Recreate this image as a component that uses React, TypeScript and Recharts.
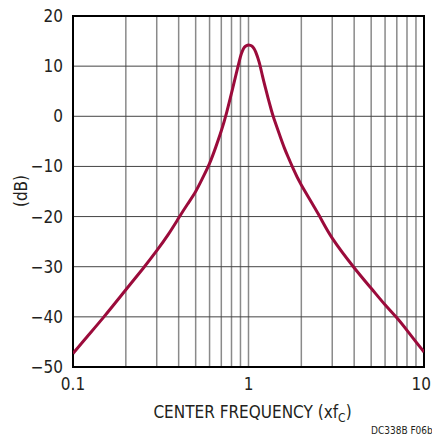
import React from 'react';
import {
  LineChart,
  Line,
  XAxis,
  YAxis,
  CartesianGrid,
  ReferenceArea,
} from 'recharts';

// frequency (x fC) and gain (dB)
const freq = [
  0.1, 0.12, 0.15, 0.2, 0.25, 0.3, 0.35, 0.4, 0.45, 0.5, 0.55, 0.6, 0.65, 0.7,
  0.75, 0.8, 0.85, 0.875, 0.9, 0.925, 0.95, 0.975, 1.0, 1.025, 1.05, 1.075, 1.1,
  1.15, 1.2, 1.25, 1.3, 1.35, 1.4, 1.5, 1.6, 1.7, 1.8, 2, 2.5, 3, 4, 5, 6, 7, 8,
  9, 10,
];
const gain = [
  -47.3, -44.0, -40.0, -34.6, -30.4, -26.8, -23.5, -20.3, -17.5, -15.0, -12.2,
  -9.4, -6.2, -2.9, 0.7, 4.6, 8.4, 10.2, 11.9, 13.1, 13.8, 14.1, 14.2, 14.15,
  13.95, 13.5, 12.8, 10.8, 8.1, 5.6, 3.3, 1.2, -0.6, -3.6, -6.3, -8.5, -10.5,
  -13.7, -19.5, -24.3, -30.2, -34.3, -37.6, -40.2, -42.7, -45.0, -47.0,
];

const xTicks = [
  0.1, 0.2, 0.3, 0.4, 0.5, 0.6, 0.7, 0.8, 0.9, 1, 2, 3, 4, 5, 6, 7, 8, 9, 10,
];
const xLabels = [0.1, 1, 10];
const yTicks = [-50, -40, -30, -20, -10, 0, 10, 20];

const data = freq.map((f, i) => ({ f, db: gain[i] }));

const FONT = "'Liberation Sans Narrow', 'DejaVu Sans Condensed', sans-serif";
const TEXT = '#231f20';

const XTick = (props: any) => {
  const { x, y, payload } = props;
  const v = payload.value;
  if (!xLabels.includes(v)) return null;
  const last = v === 10;
  return (
    <text
      x={last ? 431 : x}
      y={y}
      dy="0.71em"
      textAnchor={last ? 'end' : 'middle'}
      fontFamily={FONT}
      fontSize={17}
      fill={TEXT}
    >
      {String(v)}
    </text>
  );
};

const XTitle = (props: any) => {
  const { viewBox } = props;
  const cx = viewBox.x + viewBox.width / 2 + 4;
  return (
    <text
      x={cx}
      y={418}
      textAnchor="middle"
      fontFamily={FONT}
      fontSize={17}
      fill={TEXT}
    >
      CENTER FREQUENCY (xf
      <tspan fontSize={12} dy={4}>
        C
      </tspan>
      <tspan dy={-4}>)</tspan>
    </text>
  );
};

const YTitle = () => (
  <text
    x={0}
    y={0}
    transform="translate(27, 191) rotate(-90)"
    textAnchor="middle"
    fontFamily={FONT}
    fontSize={17}
    fill={TEXT}
  >
    (dB)
  </text>
);

const fmtY = (v: number) => (v < 0 ? '\u2212' + Math.abs(v) : String(v));

export default function App() {
  return (
    <div
      style={{
        position: 'absolute',
        left: 0,
        top: 0,
        width: 432,
        height: 437,
        background: '#fff',
      }}
    >
      <LineChart
        width={432}
        height={437}
        data={data}
        margin={{ top: 16, right: 8, bottom: 30, left: 0 }}
      >
        <CartesianGrid
          horizontal={false}
          stroke="#8a8a8a"
          strokeWidth={1.5}
        />
        <CartesianGrid vertical={false} stroke="#444" strokeWidth={1} />
        <XAxis
          dataKey="f"
          type="number"
          scale="log"
          domain={[0.1, 10]}
          ticks={xTicks}
          interval={0}
          height={40}
          axisLine={false}
          tickLine={false}
          tickSize={0}
          tickMargin={11}
          tick={<XTick />}
          allowDataOverflow
          label={<XTitle />}
        />
        <YAxis
          type="number"
          domain={[-50, 20]}
          ticks={yTicks}
          tickFormatter={fmtY}
          interval={0}
          width={73}
          axisLine={false}
          tickLine={false}
          tickSize={0}
          tickMargin={10}
          tick={{ fontFamily: FONT, fontSize: 17, fill: TEXT }}
          label={<YTitle />}
        />
        <ReferenceArea
          x1={0.1}
          x2={10}
          y1={-50}
          y2={20}
          fill="none"
          fillOpacity={0}
          stroke="#000"
          strokeWidth={2}
        />
        <Line
          type="natural"
          dataKey="db"
          stroke="#9b0b3b"
          strokeWidth={3}
          dot={false}
          activeDot={false}
          isAnimationActive={false}
        />
      </LineChart>
      <div
        style={{
          position: 'absolute',
          left: 371,
          top: 425,
          fontFamily: FONT,
          fontSize: 10,
          color: TEXT,
          whiteSpace: 'nowrap',
        }}
      >
        DC338B F06b
      </div>
    </div>
  );
}
